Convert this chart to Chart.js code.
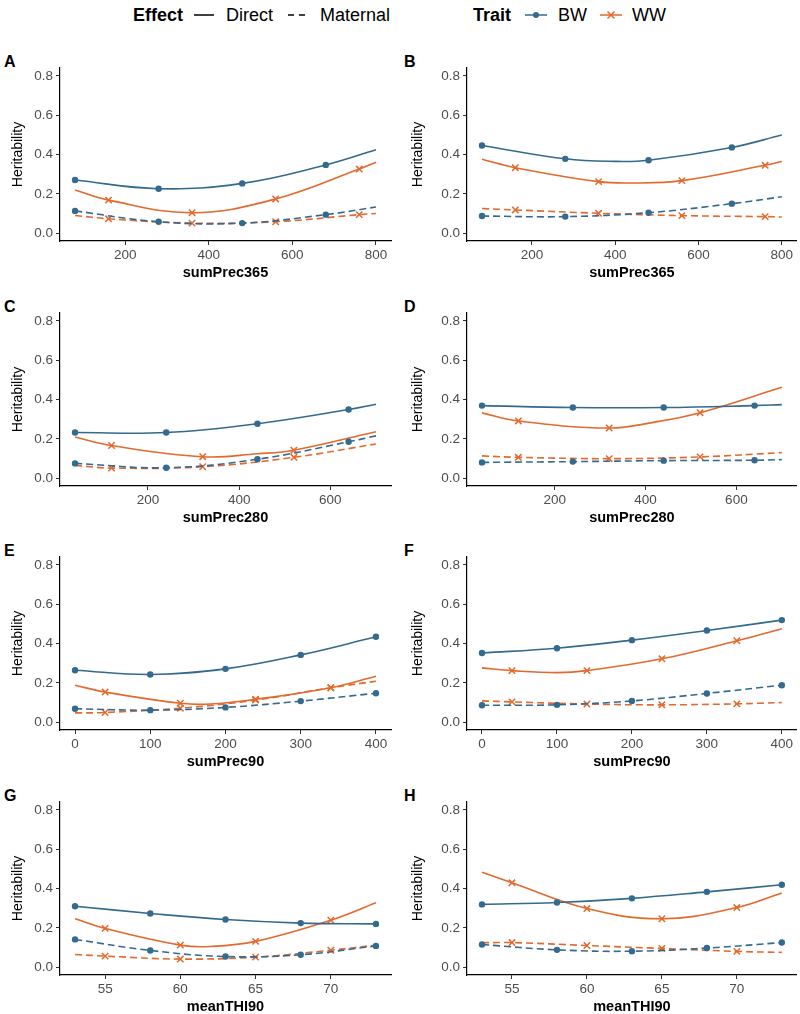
<!DOCTYPE html>
<html>
<head>
<meta charset="utf-8">
<title>Heritability by weather covariate</title>
<script src="https://cdn.jsdelivr.net/npm/chart.js@4.4.1/dist/chart.umd.min.js"></script>
<style>
    body { margin: 0; background: #fff; font-family: "Liberation Sans", Arial, sans-serif; }
    #page { position: relative; width: 800px; height: 1014px; overflow: hidden; }
    #page canvas { position: absolute; }
    .letter { position: absolute; font-weight: bold; font-size: 16px; line-height: 16px; color: #000; }
    .lg { position: absolute; top: 5px; font-size: 18px; line-height: 20px; color: #000; white-space: nowrap; }
    .lg.bold { font-weight: bold; }
    .lg svg { display: block; }
</style>
</head>
<body>
<div id="page">
    <span class="lg bold" style="left:133px">Effect</span>
    <span class="lg" style="left:193px"><svg width="22" height="20"><line x1="1" y1="10" x2="21" y2="10" stroke="#000" stroke-width="1.5"/></svg></span>
    <span class="lg" style="left:226px">Direct</span>
    <span class="lg" style="left:287px"><svg width="24" height="20"><line x1="1" y1="10" x2="23" y2="10" stroke="#000" stroke-width="1.5" stroke-dasharray="6 5"/></svg></span>
    <span class="lg" style="left:320px">Maternal</span>
    <span class="lg bold" style="left:473px">Trait</span>
    <span class="lg" style="left:524px"><svg width="24" height="20"><line x1="1" y1="10" x2="23" y2="10" stroke="#336a8d" stroke-width="1.5"/><circle cx="12" cy="10" r="3" fill="#336a8d"/></svg></span>
    <span class="lg" style="left:558px">BW</span>
    <span class="lg" style="left:599px"><svg width="24" height="20"><line x1="1" y1="10" x2="23" y2="10" stroke="#e3692c" stroke-width="1.5"/><path d="M8.5 6.5 L15.5 13.5 M15.5 6.5 L8.5 13.5" stroke="#e3692c" stroke-width="1.5"/></svg></span>
    <span class="lg" style="left:632px">WW</span>
</div>
<script>
const BLUE = '#336a8d';
const ORANGE = '#e3692c';
const FONT = '"Liberation Sans", Arial, sans-serif';

// Axis ticks
const Y_TICKS = [0, 0.2, 0.4, 0.6, 0.8];
const X_TICKS_365 = [200, 400, 600, 800];
const X_TICKS_280 = [200, 400, 600];
const X_TICKS_90 = [0, 100, 200, 300, 400];
const X_TICKS_THI = [55, 60, 65, 70];

// Where the markers sit on each x variable
const BW_MARKS_365 = [80, 280, 480, 680];
const WW_MARKS_365 = [160, 360, 560, 760];
const BW_MARKS_280 = [40, 240, 440, 640];
const WW_MARKS_280 = [120, 320, 520];
const BW_MARKS_90 = [0, 100, 200, 300, 400];
const WW_MARKS_90 = [40, 140, 240, 340];
const BW_MARKS_THI = [53, 58, 63, 68, 73];
const WW_MARKS_THI = [55, 60, 65, 70];

// Panel A
const A_BW_DIRECT = [[80, .27], [280, .226], [480, .253], [680, .347], [800, .424]];
const A_WW_DIRECT = [[80, .219], [160, .168], [360, .104], [560, .174], [760, .326], [800, .361]];
const A_BW_MATERNAL = [[80, .113], [280, .058], [480, .051], [680, .094], [800, .133]];
const A_WW_MATERNAL = [[80, .09], [160, .073], [360, .051], [560, .058], [760, .094], [800, .10]];

// Panel B
const B_BW_DIRECT = [[80, .446], [280, .378], [400, .365], [480, .371], [680, .436], [800, .499]];
const B_WW_DIRECT = [[80, .376], [160, .333], [360, .262], [440, .255], [560, .267], [760, .345], [800, .364]];
const B_BW_MATERNAL = [[80, .087], [280, .084], [480, .104], [680, .150], [800, .185]];
const B_WW_MATERNAL = [[80, .125], [160, .118], [360, .101], [560, .089], [760, .084], [800, .082]];

// Panel C
const C_BW_DIRECT = [[40, .232], [240, .232], [440, .277], [640, .349], [700, .376]];
const C_WW_DIRECT = [[40, .209], [120, .166], [320, .109], [440, .124], [520, .142], [700, .236]];
const C_BW_MATERNAL = [[40, .075], [240, .053], [440, .096], [640, .185], [700, .215]];
const C_WW_MATERNAL = [[40, .065], [120, .051], [320, .058], [520, .106], [700, .174]];

// Panel D
const D_BW_DIRECT = [[40, .369], [240, .359], [440, .359], [640, .369], [700, .374]];
const D_WW_DIRECT = [[40, .332], [120, .291], [320, .255], [420, .285], [520, .333], [700, .462]];
const D_BW_MATERNAL = [[40, .080], [240, .084], [440, .089], [640, .091], [700, .094]];
const D_WW_MATERNAL = [[40, .113], [120, .106], [320, .099], [520, .108], [700, .130]];

// Panel E
const E_BW_DIRECT = [[0, .264], [100, .242], [200, .271], [300, .342], [400, .434]];
const E_WW_DIRECT = [[0, .188], [40, .153], [140, .096], [180, .092], [240, .116], [340, .175], [400, .233]];
const E_BW_MATERNAL = [[0, .068], [100, .061], [200, .075], [300, .107], [400, .147]];
const E_WW_MATERNAL = [[0, .047], [40, .049], [140, .071], [240, .112], [340, .175], [400, .208]];

// Panel F
const F_BW_DIRECT = [[0, .352], [100, .376], [200, .417], [300, .466], [400, .519]];
const F_WW_DIRECT = [[0, .276], [40, .262], [100, .252], [140, .262], [240, .322], [340, .414], [400, .475]];
const F_BW_MATERNAL = [[0, .086], [100, .088], [200, .108], [300, .146], [400, .188]];
const F_WW_MATERNAL = [[0, .108], [40, .103], [140, .092], [240, .088], [340, .093], [400, .10]];

// Panel G
const G_BW_DIRECT = [[53, .31], [58, .273], [63, .242], [68, .224], [73, .22]];
const G_WW_DIRECT = [[53, .246], [55, .197], [60, .112], [62, .105], [65, .131], [70, .239], [73, .327]];
const G_BW_MATERNAL = [[53, .141], [58, .085], [63, .054], [68, .063], [73, .108]];
const G_WW_MATERNAL = [[53, .064], [55, .056], [60, .041], [65, .051], [70, .086], [73, .112]];

// Panel H
const H_BW_DIRECT = [[53, .319], [58, .329], [63, .35], [68, .383], [73, .419]];
const H_WW_DIRECT = [[53, .483], [55, .429], [60, .298], [65, .246], [70, .303], [73, .377]];
const H_BW_MATERNAL = [[53, .115], [58, .088], [63, .081], [68, .097], [73, .125]];
const H_WW_MATERNAL = [[53, .124], [55, .125], [60, .11], [65, .095], [70, .08], [73, .075]];

const panels = [
    { id: 'A', row: 0, col: 0, xTitle: 'sumPrec365', xTicks: X_TICKS_365, bwMarks: BW_MARKS_365, wwMarks: WW_MARKS_365,
      bwD: A_BW_DIRECT, wwD: A_WW_DIRECT, bwM: A_BW_MATERNAL, wwM: A_WW_MATERNAL },
    { id: 'B', row: 0, col: 1, xTitle: 'sumPrec365', xTicks: X_TICKS_365, bwMarks: BW_MARKS_365, wwMarks: WW_MARKS_365,
      bwD: B_BW_DIRECT, wwD: B_WW_DIRECT, bwM: B_BW_MATERNAL, wwM: B_WW_MATERNAL },
    { id: 'C', row: 1, col: 0, xTitle: 'sumPrec280', xTicks: X_TICKS_280, bwMarks: BW_MARKS_280, wwMarks: WW_MARKS_280,
      bwD: C_BW_DIRECT, wwD: C_WW_DIRECT, bwM: C_BW_MATERNAL, wwM: C_WW_MATERNAL },
    { id: 'D', row: 1, col: 1, xTitle: 'sumPrec280', xTicks: X_TICKS_280, bwMarks: BW_MARKS_280, wwMarks: WW_MARKS_280,
      bwD: D_BW_DIRECT, wwD: D_WW_DIRECT, bwM: D_BW_MATERNAL, wwM: D_WW_MATERNAL },
    { id: 'E', row: 2, col: 0, xTitle: 'sumPrec90', xTicks: X_TICKS_90, bwMarks: BW_MARKS_90, wwMarks: WW_MARKS_90,
      bwD: E_BW_DIRECT, wwD: E_WW_DIRECT, bwM: E_BW_MATERNAL, wwM: E_WW_MATERNAL },
    { id: 'F', row: 2, col: 1, xTitle: 'sumPrec90', xTicks: X_TICKS_90, bwMarks: BW_MARKS_90, wwMarks: WW_MARKS_90,
      bwD: F_BW_DIRECT, wwD: F_WW_DIRECT, bwM: F_BW_MATERNAL, wwM: F_WW_MATERNAL },
    { id: 'G', row: 3, col: 0, xTitle: 'meanTHI90', xTicks: X_TICKS_THI, bwMarks: BW_MARKS_THI, wwMarks: WW_MARKS_THI,
      bwD: G_BW_DIRECT, wwD: G_WW_DIRECT, bwM: G_BW_MATERNAL, wwM: G_WW_MATERNAL },
    { id: 'H', row: 3, col: 1, xTitle: 'meanTHI90', xTicks: X_TICKS_THI, bwMarks: BW_MARKS_THI, wwMarks: WW_MARKS_THI,
      bwD: H_BW_DIRECT, wwD: H_WW_DIRECT, bwM: H_BW_MATERNAL, wwM: H_WW_MATERNAL }
];

function makeSeries(label, points, marks, trait, dashed) {
    const color = trait === 'BW' ? BLUE : ORANGE;
    return {
        label: label,
        data: points.map(([x, y]) => ({ x, y })),
        borderColor: color,
        backgroundColor: color,
        borderWidth: 1.6,
        borderDash: dashed ? [7, 4] : [],
        tension: 0.4,
        fill: false,
        pointStyle: trait === 'BW' ? 'circle' : 'crossRot',
        pointRadius: ctx => marks.includes(ctx.raw.x) ? (trait === 'BW' ? 3.2 : 4.5) : 0,
        pointBorderWidth: trait === 'BW' ? 0 : 1.5,
        pointBorderColor: color,
        pointBackgroundColor: color,
        pointHoverRadius: 0
    };
}

function buildPanel(p) {
    const page = document.getElementById('page');
    const plotTop = Math.round(68 + p.row * 244.7);

    const letter = document.createElement('div');
    letter.className = 'letter';
    letter.textContent = p.id;
    letter.style.left = (p.col * 400 + 4) + 'px';
    letter.style.top = (plotTop - 14) + 'px';
    page.appendChild(letter);

    const canvas = document.createElement('canvas');
    canvas.width = 400;
    canvas.height = 236;
    canvas.style.left = (p.col * 400) + 'px';
    canvas.style.top = (plotTop - 20) + 'px';
    page.appendChild(canvas);

    // ggplot-style 5% expansion of the x range
    const xs = [p.bwD, p.wwD, p.bwM, p.wwM].flat().map(d => d[0]);
    const xMin = Math.min(...xs), xMax = Math.max(...xs);
    const pad = (xMax - xMin) * 0.05;

    const tickFont = { family: FONT, size: 13.5 };
    const titleFont = { family: FONT, size: 14.5, weight: 'bold' };
    const grid = { display: true, drawOnChartArea: false, drawTicks: true, tickLength: 4, color: '#333' };
    const border = { display: true, color: '#000', width: 1.2 };

    new Chart(canvas, {
        type: 'line',
        data: {
            datasets: [
                makeSeries('BW Maternal', p.bwM, p.bwMarks, 'BW', true),
                makeSeries('WW Maternal', p.wwM, p.wwMarks, 'WW', true),
                makeSeries('BW Direct', p.bwD, p.bwMarks, 'BW', false),
                makeSeries('WW Direct', p.wwD, p.wwMarks, 'WW', false)
            ]
        },
        options: {
            responsive: false,
            animation: false,
            events: [],
            layout: { padding: { top: 20, right: p.col ? 2 : 9, bottom: 0, left: 0 } },
            plugins: { legend: { display: false }, tooltip: { enabled: false } },
            scales: {
                x: {
                    type: 'linear',
                    min: xMin - pad,
                    max: xMax + pad,
                    afterBuildTicks: s => { s.ticks = p.xTicks.map(v => ({ value: v })); },
                    afterFit: s => { s.height = 43; },
                    grid: grid,
                    border: border,
                    ticks: { color: '#4d4d4d', font: tickFont, padding: 2, maxRotation: 0, autoSkip: false },
                    title: { display: true, text: p.xTitle, color: '#000', font: titleFont, padding: { top: 0, bottom: 2 } }
                },
                y: {
                    min: -0.04,
                    max: 0.84,
                    afterBuildTicks: s => { s.ticks = Y_TICKS.map(v => ({ value: v })); },
                    afterFit: s => { s.width = p.col ? 67 : 60; },
                    grid: grid,
                    border: border,
                    ticks: { color: '#4d4d4d', font: tickFont, padding: 3, callback: v => v.toFixed(1) },
                    title: { display: true, text: 'Heritability', color: '#000', font: { family: FONT, size: 14 }, padding: { top: 10, bottom: 0 } }
                }
            }
        }
    });
}

panels.forEach(buildPanel);
</script>
</body>
</html>
